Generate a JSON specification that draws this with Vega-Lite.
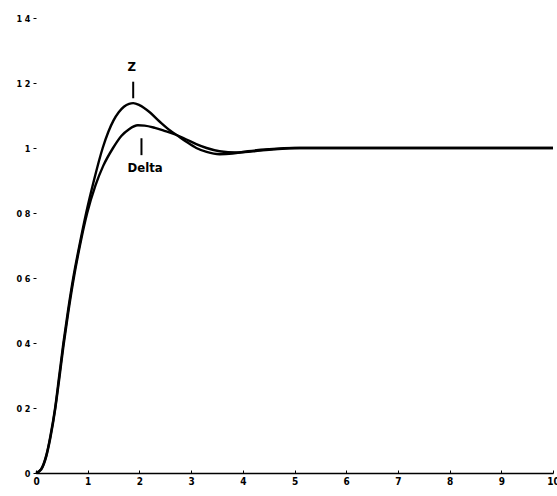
{
  "$schema": "https://vega.github.io/schema/vega-lite/v6.json",
  "width": 517,
  "height": 455,
  "autosize": {"type": "none"},
  "padding": {"left": 36, "top": 18, "right": 4, "bottom": 23},
  "background": "white",
  "config": {
    "view": {"stroke": null},
    "font": "DejaVu Sans Condensed"
  },
  "datasets": {
    "curves": [
      {"series": "Z", "t": 0, "v": 0}, {"series": "Z", "t": 0.1, "v": 0.012}, {"series": "Z", "t": 0.2, "v": 0.055},
      {"series": "Z", "t": 0.28, "v": 0.115}, {"series": "Z", "t": 0.37, "v": 0.2}, {"series": "Z", "t": 0.45, "v": 0.3},
      {"series": "Z", "t": 0.53, "v": 0.4}, {"series": "Z", "t": 0.62, "v": 0.5}, {"series": "Z", "t": 0.72, "v": 0.6},
      {"series": "Z", "t": 0.84, "v": 0.7}, {"series": "Z", "t": 0.97, "v": 0.8}, {"series": "Z", "t": 1.12, "v": 0.9},
      {"series": "Z", "t": 1.29, "v": 1.0}, {"series": "Z", "t": 1.4, "v": 1.05}, {"series": "Z", "t": 1.5, "v": 1.085},
      {"series": "Z", "t": 1.6, "v": 1.11}, {"series": "Z", "t": 1.7, "v": 1.127}, {"series": "Z", "t": 1.8, "v": 1.136},
      {"series": "Z", "t": 1.88, "v": 1.138}, {"series": "Z", "t": 2.0, "v": 1.132}, {"series": "Z", "t": 2.2, "v": 1.11},
      {"series": "Z", "t": 2.4, "v": 1.08}, {"series": "Z", "t": 2.6, "v": 1.053}, {"series": "Z", "t": 2.72, "v": 1.04},
      {"series": "Z", "t": 2.9, "v": 1.02}, {"series": "Z", "t": 3.1, "v": 1.0}, {"series": "Z", "t": 3.3, "v": 0.988},
      {"series": "Z", "t": 3.55, "v": 0.981}, {"series": "Z", "t": 3.8, "v": 0.983}, {"series": "Z", "t": 4.1, "v": 0.99},
      {"series": "Z", "t": 4.5, "v": 0.996}, {"series": "Z", "t": 5, "v": 1.0}, {"series": "Z", "t": 6, "v": 1.0},
      {"series": "Z", "t": 7, "v": 1.0}, {"series": "Z", "t": 8, "v": 1.0}, {"series": "Z", "t": 9, "v": 1.0},
      {"series": "Z", "t": 10, "v": 1.0},
      {"series": "Delta", "t": 0, "v": 0}, {"series": "Delta", "t": 0.1, "v": 0.011}, {"series": "Delta", "t": 0.2, "v": 0.052},
      {"series": "Delta", "t": 0.28, "v": 0.11}, {"series": "Delta", "t": 0.37, "v": 0.195}, {"series": "Delta", "t": 0.45, "v": 0.29},
      {"series": "Delta", "t": 0.53, "v": 0.39}, {"series": "Delta", "t": 0.62, "v": 0.49}, {"series": "Delta", "t": 0.72, "v": 0.59},
      {"series": "Delta", "t": 0.85, "v": 0.7}, {"series": "Delta", "t": 0.99, "v": 0.8}, {"series": "Delta", "t": 1.15, "v": 0.885},
      {"series": "Delta", "t": 1.3, "v": 0.945}, {"series": "Delta", "t": 1.49, "v": 1.0}, {"series": "Delta", "t": 1.65, "v": 1.037},
      {"series": "Delta", "t": 1.8, "v": 1.058}, {"series": "Delta", "t": 1.97, "v": 1.07}, {"series": "Delta", "t": 2.1, "v": 1.069},
      {"series": "Delta", "t": 2.3, "v": 1.062}, {"series": "Delta", "t": 2.5, "v": 1.052}, {"series": "Delta", "t": 2.72, "v": 1.04},
      {"series": "Delta", "t": 2.9, "v": 1.027}, {"series": "Delta", "t": 3.1, "v": 1.012}, {"series": "Delta", "t": 3.3, "v": 1.0},
      {"series": "Delta", "t": 3.55, "v": 0.99}, {"series": "Delta", "t": 3.88, "v": 0.986}, {"series": "Delta", "t": 4.2, "v": 0.99},
      {"series": "Delta", "t": 4.6, "v": 0.996}, {"series": "Delta", "t": 5.1, "v": 1.0}, {"series": "Delta", "t": 6, "v": 1.0},
      {"series": "Delta", "t": 7, "v": 1.0}, {"series": "Delta", "t": 8, "v": 1.0}, {"series": "Delta", "t": 9, "v": 1.0},
      {"series": "Delta", "t": 10, "v": 1.0}
    ],
    "markers": [
      {"label": "Z", "t": 1.88, "v1": 1.153, "v2": 1.204},
      {"label": "Delta", "t": 2.04, "v1": 0.978, "v2": 1.03}
    ],
    "labels": [
      {"label": "Z", "t": 1.85, "v": 1.25},
      {"label": "Delta", "t": 2.11, "v": 0.938}
    ]
  },
  "layer": [
    {
      "data": {"name": "curves"},
      "mark": {"type": "line", "color": "black", "strokeWidth": 2.4, "interpolate": "monotone"},
      "encoding": {
        "x": {
          "field": "t", "type": "quantitative",
          "scale": {"domain": [0, 10], "nice": false, "zero": false},
          "axis": {
            "title": null, "values": [0,1,2,3,4,5,6,7,8,9,10], "grid": false,
            "domainColor": "black", "domainWidth": 1.5, "tickColor": "black", "tickSize": -3,
            "labelFont": "DejaVu Sans Condensed", "labelFontWeight": "bold", "labelFontSize": 10,
            "labelColor": "black", "labelPadding": 6, "labelFlush": false
          }
        },
        "y": {
          "field": "v", "type": "quantitative",
          "scale": {"domain": [0, 1.4], "nice": false},
          "axis": {
            "title": null, "values": [0, 0.2, 0.4, 0.6, 0.8, 1, 1.2, 1.4], "grid": false,
            "domain": false, "tickColor": "black", "tickSize": 3, "tickWidth": 1,
            "labelFont": "DejaVu Sans Condensed", "labelFontWeight": "bold", "labelFontSize": 9,
            "labelColor": "black", "labelPadding": 3,
            "labelExpr": "datum.value == 0 ? '0' : datum.value == 1 ? '1' : replace(format(datum.value, '.1f'), '.', ' ')"
          }
        },
        "detail": {"field": "series"}
      }
    },
    {
      "data": {"name": "markers"},
      "mark": {"type": "rule", "color": "black", "strokeWidth": 2},
      "encoding": {
        "x": {"field": "t", "type": "quantitative"},
        "y": {"field": "v1", "type": "quantitative"},
        "y2": {"field": "v2"}
      }
    },
    {
      "data": {"name": "labels"},
      "mark": {"type": "text", "color": "black", "font": "DejaVu Sans Condensed", "fontWeight": "bold", "fontSize": 13, "baseline": "middle", "align": "center"},
      "encoding": {
        "x": {"field": "t", "type": "quantitative"},
        "y": {"field": "v", "type": "quantitative"},
        "text": {"field": "label"}
      }
    }
  ]
}
